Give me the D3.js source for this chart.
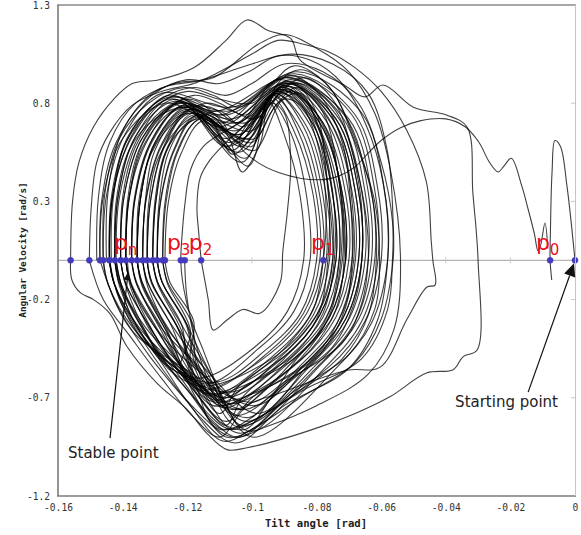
<!DOCTYPE html>
<html><head><meta charset="utf-8">
<script src="https://cdn.jsdelivr.net/npm/d3@7"></script>
<style>body{margin:0;background:#fff}</style>
</head><body><svg id="c" width="581" height="535"></svg>
<script>
// ---- axis ticks ----
const xTicks = [-0.16,-0.14,-0.12,-0.1,-0.08,-0.06,-0.04,-0.02,0];
const xTickLabels = ["-0.16","-0.14","-0.12","-0.1","-0.08","-0.06","-0.04","-0.02","0"];
const yTicks = [1.3,0.8,0.3,-0.2,-0.7,-1.2];
const yTickLabels = ["1.3","0.8","0.3","-0.2","-0.7","-1.2"];

// ---- Poincaré section crossings ----
const sectionPoints = [-0.1561,-0.1503,-0.1470,-0.1460,-0.1441,-0.1424,-0.1406,-0.1390,-0.1372,-0.1355,-0.1338,-0.1324,-0.1307,-0.1293,-0.1276,-0.1269,-0.1220,-0.1208,-0.1157,-0.0779,-0.0077,0];
const sectionLabels = [["p","n",-0.1427],["p","3",-0.1263],["p","2",-0.1195],["p","1",-0.0817],["p","0",-0.0121]];

// ---- trajectory: start transient ----
const startSpike = [[0,0],[-0.0025,0.38],[-0.0045,0.58],[-0.0062,0.61],[-0.0071,0.45],[-0.0076,0.15],[-0.0077,0],[-0.0072,-0.1]];
const longSweep = [[-0.0084,0.06],[-0.0093,0.19],[-0.0106,0.08],[-0.0115,0.05],[-0.0125,0.13],[-0.0145,0.26],[-0.0165,0.38],[-0.0197,0.52],[-0.022,0.48],[-0.0238,0.45],[-0.0265,0.5],[-0.0297,0.6],[-0.034,0.68],[-0.04,0.72],[-0.048,0.71],[-0.054,0.675],[-0.06,0.61],[-0.064,0.546],[-0.068,0.477],[-0.073,0.43],[-0.079,0.41],[-0.0913,0.445],[-0.1,0.52],[-0.104,0.6],[-0.097,0.78],[-0.089,0.87],[-0.078,0.7],[-0.072,0.3],[-0.071,0]];
const outerLoop1 = [[-0.1561,0],[-0.1555,0.3],[-0.1535,0.5],[-0.149,0.68],[-0.143,0.816],[-0.137,0.9],[-0.129,0.918],[-0.118,0.98],[-0.108,1.12],[-0.1015,1.224],[-0.095,1.17],[-0.088,1.13],[-0.0851,1.02],[-0.0715,0.893],[-0.065,0.832],[-0.0594,0.893],[-0.05,0.78],[-0.0396,0.739],[-0.0334,0.678],[-0.0316,0.342],[-0.030,0],[-0.0303,-0.457],[-0.0346,-0.49],[-0.0377,-0.557],[-0.0458,-0.573],[-0.0573,-0.695],[-0.0675,-0.776],[-0.0789,-0.848],[-0.0913,-0.913],[-0.1015,-0.954],[-0.1077,-0.964],[-0.114,-0.88],[-0.12,-0.76],[-0.1294,-0.625],[-0.1386,-0.44],[-0.144,-0.27],[-0.149,-0.2],[-0.153,-0.166],[-0.1557,-0.1],[-0.1561,0]];
const outerLoop2 = [[-0.1503,0],[-0.1498,0.25],[-0.148,0.5],[-0.144,0.65],[-0.137,0.79],[-0.128,0.86],[-0.118,0.9],[-0.11,0.96],[-0.1,1.05],[-0.092,1.12],[-0.084,1.1],[-0.076,1.06],[-0.068,0.98],[-0.06,0.86],[-0.052,0.66],[-0.046,0.4],[-0.0445,0.1],[-0.044,0],[-0.0433,-0.126],[-0.0458,-0.136],[-0.052,-0.3],[-0.0603,-0.544],[-0.0705,-0.56],[-0.0913,-0.676],[-0.1015,-0.74],[-0.11,-0.9],[-0.118,-0.8],[-0.128,-0.6],[-0.138,-0.38],[-0.146,-0.2],[-0.1503,0]];
const outerLoop3 = [[-0.147,0],[-0.1465,0.3],[-0.142,0.6],[-0.13,0.86],[-0.115,0.92],[-0.1,1.0],[-0.088,1.05],[-0.075,1.0],[-0.064,0.85],[-0.058,0.55],[-0.0563,0.2],[-0.0563,0],[-0.06,-0.3],[-0.068,-0.52],[-0.085,-0.7],[-0.1,-0.86],[-0.109,-0.92],[-0.12,-0.72],[-0.132,-0.48],[-0.142,-0.22],[-0.147,0]];
const innerLoopP2 = [[-0.1157,0],[-0.1165,0.15],[-0.117,0.27],[-0.116,0.42],[-0.113,0.51],[-0.108,0.6],[-0.1,0.72],[-0.094,0.8],[-0.09,0.75],[-0.088,0.5],[-0.089,0.25],[-0.0904,0.05],[-0.0913,-0.117],[-0.0975,-0.27],[-0.1028,-0.25],[-0.1077,-0.304],[-0.112,-0.355],[-0.1135,-0.2],[-0.1157,0]];
const innerLoopP3 = [[-0.109,-0.72],[-0.112,-0.59],[-0.115,-0.46],[-0.119,-0.29],[-0.1215,-0.1],[-0.122,0],[-0.1215,0.15],[-0.1207,0.29],[-0.119,0.46],[-0.115,0.58],[-0.108,0.66],[-0.1,0.74],[-0.092,0.85],[-0.085,0.8],[-0.079,0.55],[-0.077,0.25],[-0.0779,0],[-0.081,-0.25],[-0.09,-0.45],[-0.105,-0.65],[-0.11,-0.7],[-0.116,-0.5],[-0.12,-0.2],[-0.1208,0]];
const wideLoops = [
[[-0.145,0],[-0.1445,0.35],[-0.14,0.66],[-0.131,0.84],[-0.12,0.92],[-0.11,0.9],[-0.101,0.96],[-0.092,1.04],[-0.082,1.02],[-0.072,0.9],[-0.063,0.62],[-0.0585,0.3],[-0.058,0],[-0.061,-0.3],[-0.07,-0.55],[-0.09,-0.74],[-0.105,-0.93],[-0.116,-0.8],[-0.128,-0.52],[-0.138,-0.26],[-0.142,0]],
[[-0.148,0],[-0.1475,0.32],[-0.144,0.6],[-0.136,0.8],[-0.124,0.9],[-0.112,0.93],[-0.098,1.1],[-0.09,1.15],[-0.08,1.08],[-0.07,0.96],[-0.062,0.75],[-0.057,0.45],[-0.054,0],[-0.056,-0.35],[-0.064,-0.58],[-0.08,-0.74],[-0.096,-0.85],[-0.106,-0.9],[-0.118,-0.75],[-0.13,-0.5],[-0.141,-0.2],[-0.144,0]],
[[-0.1435,0],[-0.143,0.3],[-0.139,0.6],[-0.13,0.8],[-0.118,0.88],[-0.108,0.84],[-0.1,0.9],[-0.09,1.0],[-0.078,0.96],[-0.067,0.8],[-0.06,0.5],[-0.0565,0.2],[-0.0565,0],[-0.058,-0.25],[-0.066,-0.5],[-0.084,-0.66],[-0.1,-0.82],[-0.107,-0.86],[-0.12,-0.66],[-0.132,-0.4],[-0.14,-0.14],[-0.1424,0]]
];

// ---- trajectory: settled oscillation loops ----
const loops = [
[[-0.147,0],[-0.146,0.32],[-0.140,0.62],[-0.127,0.80],[-0.109,0.70],[-0.090,0.93],[-0.070,0.72],[-0.063,0.35],[-0.062,0],[-0.067,-0.30],[-0.078,-0.52],[-0.104,-0.88],[-0.118,-0.60],[-0.133,-0.34],[-0.1405,-0.12]],
[[-0.142,0],[-0.141,0.32],[-0.135,0.63],[-0.124,0.82],[-0.104,0.55],[-0.088,0.90],[-0.074,0.72],[-0.067,0.35],[-0.066,0],[-0.071,-0.30],[-0.082,-0.52],[-0.112,-0.72],[-0.121,-0.56],[-0.128,-0.34],[-0.1357,-0.12]],
[[-0.1372,0],[-0.1365,0.3],[-0.132,0.58],[-0.124,0.76],[-0.113,0.78],[-0.104,0.7],[-0.092,0.92],[-0.079,0.78],[-0.073,0.4],[-0.0715,0],[-0.074,-0.25],[-0.082,-0.46],[-0.1,-0.7],[-0.108,-0.82],[-0.12,-0.62],[-0.130,-0.38],[-0.1375,-0.12]],
[[-0.139,0],[-0.138,0.31],[-0.133,0.60],[-0.122,0.78],[-0.100,0.66],[-0.091,0.88],[-0.078,0.70],[-0.071,0.34],[-0.070,0],[-0.075,-0.29],[-0.086,-0.50],[-0.101,-0.80],[-0.120,-0.58],[-0.135,-0.34],[-0.1425,-0.12]],
[[-0.144,0],[-0.143,0.33],[-0.137,0.64],[-0.126,0.84],[-0.110,0.74],[-0.087,0.95],[-0.068,0.74],[-0.061,0.36],[-0.060,0],[-0.065,-0.31],[-0.076,-0.54],[-0.110,-0.86],[-0.118,-0.60],[-0.123,-0.34],[-0.131,-0.12]],
[[-0.1324,0],[-0.132,0.28],[-0.129,0.52],[-0.121,0.7],[-0.115,0.74],[-0.108,0.66],[-0.1,0.6],[-0.093,0.78],[-0.086,0.88],[-0.08,0.75],[-0.0765,0.36],[-0.075,0],[-0.078,-0.22],[-0.088,-0.44],[-0.104,-0.64],[-0.11,-0.78],[-0.118,-0.6],[-0.1265,-0.36],[-0.134,-0.12]],
[[-0.1355,0],[-0.1345,0.31],[-0.130,0.59],[-0.120,0.76],[-0.103,0.50],[-0.092,0.86],[-0.081,0.69],[-0.075,0.33],[-0.074,0],[-0.079,-0.28],[-0.090,-0.49],[-0.114,-0.68],[-0.123,-0.55],[-0.1316,-0.34],[-0.139,-0.12]],
[[-0.1406,0],[-0.1396,0.32],[-0.134,0.62],[-0.123,0.80],[-0.106,0.72],[-0.089,0.91],[-0.075,0.72],[-0.068,0.35],[-0.067,0],[-0.072,-0.30],[-0.083,-0.52],[-0.099,-0.74],[-0.116,-0.57],[-0.130,-0.34],[-0.1375,-0.12]],
[[-0.139,0],[-0.1385,0.3],[-0.135,0.56],[-0.128,0.74],[-0.118,0.84],[-0.11,0.8],[-0.102,0.74],[-0.094,0.86],[-0.085,0.9],[-0.074,0.76],[-0.067,0.4],[-0.066,0],[-0.068,-0.2],[-0.075,-0.44],[-0.092,-0.66],[-0.102,-0.86],[-0.11,-0.82],[-0.12,-0.6],[-0.128,-0.36],[-0.1357,-0.12]],
[[-0.1372,0],[-0.1362,0.31],[-0.131,0.60],[-0.121,0.79],[-0.108,0.58],[-0.090,0.89],[-0.079,0.70],[-0.072,0.34],[-0.071,0],[-0.076,-0.29],[-0.087,-0.51],[-0.106,-0.76],[-0.119,-0.55],[-0.125,-0.33],[-0.1323,-0.11]],
[[-0.1338,0],[-0.1328,0.30],[-0.128,0.58],[-0.119,0.75],[-0.101,0.62],[-0.093,0.85],[-0.083,0.68],[-0.077,0.33],[-0.076,0],[-0.081,-0.28],[-0.092,-0.48],[-0.115,-0.64],[-0.126,-0.55],[-0.1334,-0.35],[-0.1409,-0.12]],
[[-0.1424,0],[-0.142,0.3],[-0.138,0.56],[-0.13,0.72],[-0.12,0.78],[-0.112,0.7],[-0.106,0.54],[-0.098,0.68],[-0.091,0.88],[-0.082,0.84],[-0.072,0.58],[-0.069,0.3],[-0.0685,0],[-0.072,-0.26],[-0.08,-0.48],[-0.096,-0.66],[-0.104,-0.76],[-0.116,-0.64],[-0.133,-0.40],[-0.141,-0.13]],
[[-0.1424,0],[-0.1414,0.33],[-0.136,0.63],[-0.125,0.83],[-0.111,0.76],[-0.088,0.93],[-0.071,0.73],[-0.064,0.35],[-0.063,0],[-0.068,-0.31],[-0.079,-0.53],[-0.103,-0.84],[-0.114,-0.57],[-0.1234,-0.33],[-0.131,-0.11]],
[[-0.1324,0],[-0.1314,0.30],[-0.127,0.59],[-0.119,0.77],[-0.104,0.64],[-0.091,0.87],[-0.080,0.69],[-0.074,0.34],[-0.073,0],[-0.078,-0.29],[-0.089,-0.50],[-0.108,-0.70],[-0.120,-0.57],[-0.1265,-0.36],[-0.134,-0.13]],
[[-0.1355,0],[-0.135,0.3],[-0.131,0.55],[-0.123,0.72],[-0.114,0.8],[-0.106,0.76],[-0.099,0.72],[-0.092,0.84],[-0.084,0.93],[-0.075,0.82],[-0.068,0.5],[-0.0645,0.2],[-0.064,0],[-0.066,-0.22],[-0.072,-0.42],[-0.09,-0.62],[-0.099,-0.72],[-0.106,-0.7],[-0.120,-0.56],[-0.137,-0.36],[-0.1445,-0.12]],
[[-0.146,0],[-0.145,0.33],[-0.139,0.65],[-0.128,0.85],[-0.106,0.78],[-0.086,0.96],[-0.066,0.75],[-0.059,0.36],[-0.058,0],[-0.063,-0.32],[-0.074,-0.55],[-0.100,-0.90],[-0.112,-0.60],[-0.1217,-0.33],[-0.1292,-0.11]],
[[-0.1307,0],[-0.1297,0.30],[-0.126,0.57],[-0.118,0.74],[-0.099,0.56],[-0.094,0.84],[-0.085,0.67],[-0.079,0.33],[-0.078,0],[-0.083,-0.27],[-0.094,-0.47],[-0.116,-0.66],[-0.120,-0.52],[-0.1217,-0.33],[-0.1292,-0.11]],
[[-0.1307,0],[-0.130,0.3],[-0.127,0.54],[-0.121,0.68],[-0.113,0.74],[-0.107,0.62],[-0.103,0.45],[-0.097,0.6],[-0.09,0.82],[-0.083,0.76],[-0.077,0.45],[-0.0765,0],[-0.08,-0.3],[-0.09,-0.5],[-0.103,-0.7],[-0.108,-0.84],[-0.116,-0.7],[-0.130,-0.40],[-0.1375,-0.14]],
[[-0.139,0],[-0.138,0.32],[-0.132,0.62],[-0.122,0.81],[-0.109,0.66],[-0.089,0.90],[-0.076,0.71],[-0.069,0.35],[-0.068,0],[-0.073,-0.30],[-0.084,-0.52],[-0.105,-0.79],[-0.116,-0.55],[-0.1203,-0.32],[-0.1278,-0.11]],
[[-0.1293,0],[-0.1283,0.29],[-0.124,0.56],[-0.117,0.73],[-0.102,0.52],[-0.094,0.83],[-0.087,0.66],[-0.081,0.33],[-0.080,0],[-0.085,-0.27],[-0.096,-0.46],[-0.111,-0.62],[-0.126,-0.54],[-0.1351,-0.35],[-0.1426,-0.12]],
[[-0.1441,0],[-0.1435,0.32],[-0.139,0.6],[-0.13,0.78],[-0.12,0.86],[-0.11,0.82],[-0.1,0.8],[-0.093,0.9],[-0.085,0.97],[-0.076,0.88],[-0.068,0.6],[-0.062,0.3],[-0.0605,0],[-0.062,-0.25],[-0.07,-0.48],[-0.088,-0.68],[-0.1,-0.86],[-0.108,-0.9],[-0.118,-0.68],[-0.125,-0.40],[-0.1323,-0.13]],
[[-0.1338,0],[-0.133,0.3],[-0.13,0.56],[-0.122,0.74],[-0.113,0.72],[-0.108,0.58],[-0.101,0.64],[-0.094,0.8],[-0.087,0.86],[-0.079,0.72],[-0.073,0.4],[-0.0725,0],[-0.076,-0.28],[-0.085,-0.5],[-0.098,-0.66],[-0.112,-0.74],[-0.12,-0.6],[-0.135,-0.38],[-0.1426,-0.12]],
[[-0.1441,0],[-0.1431,0.33],[-0.137,0.63],[-0.126,0.82],[-0.105,0.70],[-0.088,0.92],[-0.072,0.73],[-0.065,0.35],[-0.064,0],[-0.069,-0.31],[-0.080,-0.53],[-0.102,-0.82],[-0.115,-0.57],[-0.1265,-0.34],[-0.134,-0.11]],
[[-0.1355,0],[-0.1345,0.31],[-0.130,0.60],[-0.120,0.78],[-0.107,0.60],[-0.090,0.88],[-0.080,0.70],[-0.073,0.34],[-0.072,0],[-0.077,-0.29],[-0.088,-0.50],[-0.109,-0.75],[-0.117,-0.54],[-0.1186,-0.32],[-0.1261,-0.11]],
[[-0.1276,0],[-0.127,0.28],[-0.124,0.52],[-0.118,0.7],[-0.11,0.76],[-0.103,0.68],[-0.097,0.74],[-0.09,0.86],[-0.083,0.8],[-0.077,0.56],[-0.0735,0.3],[-0.073,0],[-0.076,-0.26],[-0.084,-0.46],[-0.1,-0.62],[-0.113,-0.68],[-0.122,-0.56],[-0.119,-0.36],[-0.1261,-0.12]],
[[-0.1276,0],[-0.1266,0.29],[-0.123,0.55],[-0.116,0.72],[-0.100,0.58],[-0.095,0.82],[-0.088,0.65],[-0.083,0.32],[-0.082,0],[-0.087,-0.26],[-0.098,-0.45],[-0.114,-0.63],[-0.124,-0.52],[-0.1316,-0.34],[-0.139,-0.12]],
[[-0.1406,0],[-0.14,0.32],[-0.136,0.58],[-0.128,0.76],[-0.119,0.82],[-0.11,0.72],[-0.104,0.6],[-0.097,0.76],[-0.089,0.94],[-0.08,0.86],[-0.072,0.6],[-0.0695,0.3],[-0.069,0],[-0.071,-0.24],[-0.078,-0.46],[-0.094,-0.7],[-0.1,-0.8],[-0.109,-0.86],[-0.12,-0.66],[-0.1316,-0.40],[-0.139,-0.13]],
[[-0.1406,0],[-0.1396,0.32],[-0.134,0.62],[-0.123,0.80],[-0.108,0.74],[-0.089,0.90],[-0.074,0.72],[-0.067,0.35],[-0.066,0],[-0.071,-0.30],[-0.082,-0.52],[-0.098,-0.78],[-0.114,-0.56],[-0.1248,-0.33],[-0.1323,-0.11]],
[[-0.1338,0],[-0.1328,0.31],[-0.128,0.59],[-0.119,0.77],[-0.103,0.62],[-0.091,0.87],[-0.081,0.69],[-0.075,0.34],[-0.074,0],[-0.079,-0.28],[-0.090,-0.49],[-0.112,-0.71],[-0.119,-0.52],[-0.118,-0.31],[-0.1254,-0.11]],
[[-0.1269,0],[-0.1259,0.29],[-0.122,0.54],[-0.115,0.71],[-0.101,0.48],[-0.095,0.81],[-0.090,0.64],[-0.085,0.32],[-0.084,0],[-0.089,-0.26],[-0.099,-0.44],[-0.116,-0.60],[-0.126,-0.52],[-0.137,-0.34],[-0.1445,-0.12]],
[[-0.146,0],[-0.1455,0.34],[-0.141,0.62],[-0.132,0.8],[-0.121,0.88],[-0.112,0.84],[-0.104,0.78],[-0.095,0.88],[-0.087,0.99],[-0.077,0.9],[-0.069,0.66],[-0.0625,0.3],[-0.0615,0],[-0.064,-0.28],[-0.072,-0.5],[-0.09,-0.72],[-0.104,-0.9],[-0.112,-0.82],[-0.122,-0.6],[-0.1334,-0.36],[-0.1409,-0.12]],
[[-0.1424,0],[-0.1414,0.32],[-0.136,0.63],[-0.124,0.81],[-0.110,0.68],[-0.088,0.91],[-0.073,0.72],[-0.066,0.35],[-0.065,0],[-0.070,-0.30],[-0.081,-0.52],[-0.104,-0.85],[-0.116,-0.56],[-0.1282,-0.34],[-0.1357,-0.11]],
[[-0.1372,0],[-0.1362,0.31],[-0.131,0.61],[-0.121,0.79],[-0.104,0.64],[-0.090,0.89],[-0.077,0.71],[-0.070,0.34],[-0.069,0],[-0.074,-0.29],[-0.085,-0.51],[-0.107,-0.73],[-0.117,-0.55],[-0.1203,-0.33],[-0.1278,-0.11]],
[[-0.1293,0],[-0.1288,0.28],[-0.126,0.54],[-0.12,0.7],[-0.112,0.72],[-0.106,0.64],[-0.099,0.62],[-0.092,0.8],[-0.085,0.85],[-0.08,0.7],[-0.075,0.35],[-0.0745,0],[-0.078,-0.27],[-0.087,-0.48],[-0.102,-0.64],[-0.109,-0.72],[-0.118,-0.58],[-0.1217,-0.36],[-0.1292,-0.12]],
[[-0.1307,0],[-0.1297,0.30],[-0.126,0.58],[-0.118,0.75],[-0.106,0.56],[-0.093,0.85],[-0.084,0.68],[-0.078,0.33],[-0.077,0],[-0.082,-0.28],[-0.093,-0.48],[-0.113,-0.69],[-0.122,-0.53],[-0.130,-0.34],[-0.1375,-0.12]],
[[-0.139,0],[-0.138,0.32],[-0.133,0.62],[-0.122,0.80],[-0.102,0.70],[-0.089,0.90],[-0.075,0.72],[-0.068,0.35],[-0.067,0],[-0.072,-0.30],[-0.083,-0.52],[-0.103,-0.76],[-0.117,-0.55],[-0.1265,-0.33],[-0.134,-0.11]],
[[-0.1355,0],[-0.1345,0.31],[-0.130,0.60],[-0.120,0.77],[-0.108,0.62],[-0.091,0.87],[-0.079,0.70],[-0.072,0.34],[-0.071,0],[-0.076,-0.29],[-0.087,-0.50],[-0.110,-0.74],[-0.118,-0.54],[-0.1234,-0.33],[-0.131,-0.11]],
[[-0.1324,0],[-0.1314,0.30],[-0.127,0.58],[-0.119,0.76],[-0.105,0.66],[-0.092,0.86],[-0.082,0.69],[-0.076,0.34],[-0.075,0],[-0.080,-0.28],[-0.091,-0.49],[-0.106,-0.67],[-0.124,-0.56],[-0.1351,-0.36],[-0.1426,-0.12]],
[[-0.1441,0],[-0.1431,0.33],[-0.138,0.64],[-0.126,0.83],[-0.107,0.76],[-0.087,0.94],[-0.069,0.74],[-0.062,0.36],[-0.061,0],[-0.066,-0.31],[-0.077,-0.54],[-0.101,-0.87],[-0.113,-0.57],[-0.1203,-0.32],[-0.1278,-0.11]],
[[-0.1293,0],[-0.1283,0.30],[-0.124,0.57],[-0.117,0.74],[-0.103,0.58],[-0.093,0.84],[-0.086,0.67],[-0.080,0.33],[-0.079,0],[-0.084,-0.27],[-0.095,-0.47],[-0.114,-0.66],[-0.123,-0.52],[-0.130,-0.33],[-0.1375,-0.11],[-0.1385,0]]
];

// ---- annotations ----
const annotations = [
  {text:"Stable point", tip:[-0.1383,-0.06], tail:[-0.1439,-0.905], at:[-0.1569,-1.005], head:8},
  {text:"Starting point", tip:[-0.0003,-0.015], tail:[-0.0145,-0.671], at:[-0.0371,-0.747], head:13}
];

const svg=d3.select("#c");
const x=d3.scaleLinear().domain([-0.16,0]).range([58,575]);
const y=d3.scaleLinear().domain([-1.2,1.3]).range([496,5]);
const mono="'DejaVu Sans Mono', monospace";

svg.append("line").attr("x1",x(-0.16)).attr("x2",x(0)).attr("y1",y(0)).attr("y2",y(0))
  .attr("stroke","#b5b5b5").attr("stroke-width",1.2);
svg.selectAll(".zt").data(xTicks.slice(1,-1)).enter().append("line")
  .attr("x1",d=>x(d)).attr("x2",d=>x(d)).attr("y1",y(0)-3).attr("y2",y(0)+3)
  .attr("stroke","#c8c8c8").attr("stroke-width",1);
svg.selectAll(".rt").data(yTicks.slice(1,-1)).enter().append("line")
  .attr("x1",x(0)-4).attr("x2",x(0)).attr("y1",d=>y(d)).attr("y2",d=>y(d))
  .attr("stroke","#c8c8c8").attr("stroke-width",1);

const line=d3.line().x(d=>x(d[0])).y(d=>y(d[1])).curve(d3.curveCatmullRom.alpha(0.5));
const traj=svg.append("g").attr("fill","none").attr("stroke","#000").attr("stroke-width",1.1).attr("stroke-opacity",0.75);

[startSpike,longSweep,outerLoop1,outerLoop2,outerLoop3,innerLoopP2,innerLoopP3].concat(wideLoops)
  .forEach(c=>traj.append("path").attr("d",line(c)));
loops.forEach((l,i)=>{
  const pts = i<loops.length-1 ? l.concat([loops[i+1][0]]) : l;
  traj.append("path").attr("d",line(pts));
});

svg.append("g").selectAll("circle").data(sectionPoints).enter().append("circle")
  .attr("cx",d=>x(d)).attr("cy",y(0)).attr("r",3)
  .attr("fill","#3b3bc4").attr("stroke","#5a3aa8").attr("stroke-width",0.6);

const lab=svg.append("g").attr("fill","#e8101c").attr("font-family","'DejaVu Sans', sans-serif");
sectionLabels.forEach(([b,s,xv])=>{
  const t=lab.append("text").attr("x",x(xv)).attr("y",y(0)-10).attr("font-size",22);
  t.append("tspan").text(b);
  t.append("tspan").attr("font-size",15).attr("dy",5).text(s);
});

const fr=svg.append("g").attr("stroke-width",1.6);
fr.append("line").attr("x1",57).attr("x2",576).attr("y1",5).attr("y2",5).attr("stroke","#8a8a8a");
fr.append("line").attr("x1",58).attr("x2",58).attr("y1",5).attr("y2",496).attr("stroke","#7a7a7a");
fr.append("line").attr("x1",57).attr("x2",576).attr("y1",496).attr("y2",496).attr("stroke","#7a7a7a");
fr.append("line").attr("x1",575.5).attr("x2",575.5).attr("y1",5).attr("y2",496).attr("stroke","#c4c4c4").attr("stroke-width",1);

const xa=d3.axisBottom(x).tickValues(xTicks).tickFormat((d,i)=>xTickLabels[i]).tickSize(0).tickPadding(8);
const gx=svg.append("g").attr("transform",`translate(0,${y(-1.2)})`).call(xa);
gx.select(".domain").remove();
gx.selectAll("text").attr("font-family",mono).attr("font-size",9.6).attr("fill","#333");
const ya=d3.axisLeft(y).tickValues(yTicks).tickFormat((d,i)=>yTickLabels[i]).tickSize(0).tickPadding(8);
const gy=svg.append("g").attr("transform",`translate(${x(-0.16)},0)`).call(ya);
gy.select(".domain").remove();
gy.selectAll("text").attr("font-family",mono).attr("font-size",9.6).attr("fill","#333");

svg.append("text").attr("x",316).attr("y",527).attr("text-anchor","middle")
  .attr("font-family",mono).attr("font-weight","bold").attr("font-size",10.6).attr("fill","#222")
  .text("Tilt angle [rad]");
svg.append("text").attr("transform","translate(26,250) rotate(-90)").attr("text-anchor","middle")
  .attr("font-family",mono).attr("font-weight","bold").attr("font-size",9.4).attr("fill","#222")
  .text("Angular Velocity [rad/s]");

annotations.forEach(a=>{
  const x1=x(a.tail[0]),y1=y(a.tail[1]),x2=x(a.tip[0]),y2=y(a.tip[1]);
  const ang=Math.atan2(y2-y1,x2-x1), h=a.head, w=h*0.45;
  const bx=x2-h*Math.cos(ang), by=y2-h*Math.sin(ang);
  svg.append("line").attr("x1",x1).attr("y1",y1).attr("x2",bx).attr("y2",by)
    .attr("stroke","#111").attr("stroke-width",1.2);
  svg.append("path").attr("d",`M${x2},${y2}L${bx+w*Math.sin(ang)},${by-w*Math.cos(ang)}L${bx-w*Math.sin(ang)},${by+w*Math.cos(ang)}Z`)
    .attr("fill","#111");
  svg.append("text").attr("x",x(a.at[0])).attr("y",y(a.at[1]))
    .attr("font-family","'DejaVu Sans', sans-serif").attr("font-size",15).attr("fill","#222").text(a.text);
});
</script></body></html>
